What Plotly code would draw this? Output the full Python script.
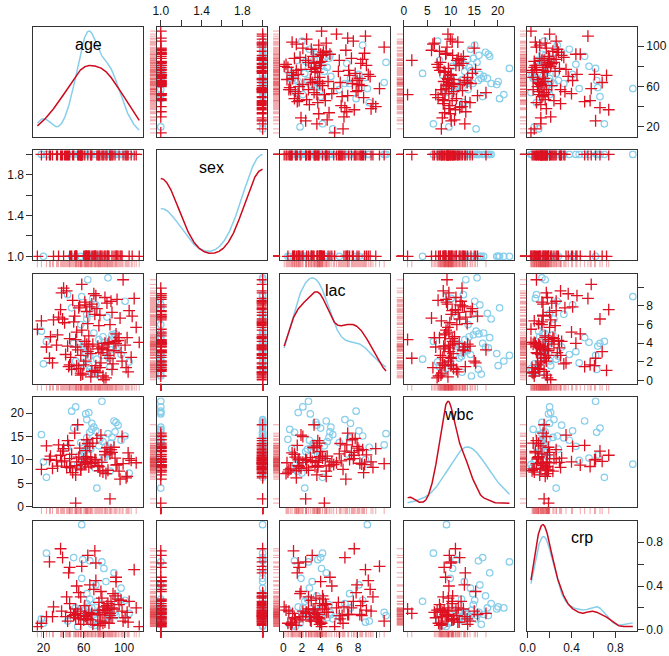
import numpy as np
import plotly.graph_objects as go

# ---------------- data ----------------
variables = ["age", "sex", "lac", "wbc", "crp"]

red_age = [62,75,48,83,57,91,35,68,72,44, 53,88,65,26,79,56,97,61,77,41,
           84,58,63,102,46,74,66,38,93,54, 71,43,81,67,30,87,52,110,60,73,
           47,76,64,95,59,86,69,33,70,55, 92,42,62,82,14,78,51,89,65,37,
           85,57,115,75,45,99,68,34,90,50, 72,49,61,104,53,79,63,29,94,67,
           40,80,74,39,88,58,98,55,76,27, 84,64,46,86,71,52,77,23,96,57,
           81,107,92,18,83,101,105,103,108,112]
red_sex = [1,2,1,2,2,2,1,2,1,2, 1,2,1,2,1,2,1,2,1,2, 1,2,1,2,2,2,1,2,1,2,
           1,2,1,2,1,2,1,2,1,2, 1,2,1,2,2,2,1,2,1,2, 1,2,1,2,1,2,1,2,1,2,
           1,2,1,2,2,2,1,2,1,2, 1,2,1,2,1,2,1,2,1,2, 1,2,1,2,1,2,1,2,1,2,
           1,2,1,2,1,1,1,2,1,2, 1,2,1,2,1,2,1,2,1,2]
red_lac = [2.1,3.4,1.2,8.3,0.8,4.2,6.8,8.2,9.1,3.7, 1.6,7.3,4.8,2.4,0.5,8.0,3.0,8.4,1.9,6.2,
           2.7,10.3,3.9,1.4,4.5,0.9,7.9,9.4,8.7,3.3, 1.1,9.6,4.0,0.4,6.5,8.5,3.6,8.8,1.7,7.7,
           2.5,7.0,3.1,4.6,0.7,6.0,3.9,3.8,9.3,1.3, 5.0,2.8,8.1,0.3,5.5,3.5,6.9,1.8,3.7,7.6,
           4.1,0.6,4.1,5.9,1.5,10.8,1.0,4.9,3.2,6.3, 1.6,8.6,4.2,0.95,5.2,3.4,7.4,1.9,4.3,2.9,
           9.9,0.1,3.7,6.6,1.2,5.4,2.1,7.8,1.4,4.7, 3.9,6.1,1.7,2.4,7.1,4.4,3.0,3.6,6.7,2.7,
           8.9,2.5,4.0,6.4,3.3,3.8,7.5,4.6,6.9,5.7]
red_wbc = [9.5,8.6,11.2,None,8.1,10.4,13.2,9.3,None,14.1, 8.8,11.6,None,10.1,7.4,12.5,None,9.1,15.3,9.8,
           7.8,None,10.7,6.2,10.3,None,12.9,9.6,9.0,17.5, None,8.4,11.8,9.4,None,12.2,6.8,None,10.2,14.6,
           8.3,None,9.7,7.6,None,11.3,13.6,9.9,None,10.6, 8.9,None,12.0,7.1,None,9.5,15.7,None,8.5,11.0,
           None,7.9,None,None,13.1,9.2,None,8.7,12.7,None, 10.0,7.3,None,11.5,9.6,None,14.3,8.2,None,10.5,
           12.4,None,8.8,11.9,None,9.0,15.0,None,7.7,10.8, None,13.5,8.6,1.7,10.1,0.8,None,13.0,5.9,None,
           11.1,9.9,None,8.0,12.6,None,10.3,6.5,None,9.4]
red_crp = [0.12,0.18,None,0.22,0.05,0.31,None,0.14,0.45,0.08, None,0.20,0.16,0.62,0.06,None,0.27,0.13,0.35,None,
           0.19,0.58,0.10,None,0.24,0.04,0.41,0.17,None,0.15, 0.72,0.30,0.07,None,0.21,0.26,0.11,0.55,0.09,None,
           0.16,0.14,0.68,0.23,None,0.13,0.05,None,0.37,0.10, 0.48,0.12,None,0.18,0.03,0.29,0.14,0.33,None,0.74,
           0.06,0.17,0.03,0.25,0.52,0.08,0.15,None,0.19,0.13, 0.61,None,0.22,0.07,0.40,0.16,None,0.12,0.28,0.09,
           None,0.21,0.14,0.66,0.11,None,0.17,0.34,0.04,None, 0.24,0.10,0.57,0.15,None,0.19,0.08,0.12,None,0.30,
           0.18,None,0.44,0.06,None,0.11,0.26,0.16,None,0.20]

blue_age = [58,65,72,85,63,20,90,67,48,101, 55,78,64,86,23,70,61,97,52,83,
            66,75,58,92,68,44,80,62,88,71, 57,94,60,73,18,82,65,50,87,69,
            105,63,76,59,84,66,91,54,79,68]
blue_sex = [2,2,1,2,2,1,2,2,1,2, 2,1,2,2,2,1,2,2,1,2, 2,1,2,2,1,2,2,1,2,2,
            1,2,2,1,2,2,1,2,2,1, 2,2,1,2,2,1,2,2,1,2]
blue_lac = [9.0,3.2,8.1,2.4,7.1,1.8,4.6,0.9,7.8,8.5, 3.9,2.7,10.8,1.5,4.2,5.1,3.0,2.8,2.1,6.8,
            1.2,4.4,1.9,3.5,0.7,9.2,4.1,2.9,4.9,1.0, 6.0,3.6,3.9,2.3,5.3,3.1,1.6,4.0,3.3,8.8,
            2.0,6.6,0.5,3.7,11.0,2.6,5.0,1.3,4.7,7.2]
blue_wbc = [9.1,13.5,16.2,11.8,14.7,9.6,18.3,12.4,20.4,15.1, 10.8,22.5,13.2,7.6,6.3,17.0,12.0,14.2,21.3,11.3,
            15.9,13.0,9.9,18.0,16.5,12.7,10.4,19.8,14.8,8.3, 13.7,17.4,11.6,4.0,15.4,12.9,20.1,16.8,13.6,10.1,
            7.2,18.6,14.4,11.1,15.6,12.3,16.0,9.0,13.9,17.8]
blue_crp = [0.96,0.15,0.41,0.12,0.33,0.06,0.52,0.12,None,0.27, 0.18,0.62,0.16,0.09,0.70,0.14,0.11,0.38,0.20,None,
            0.63,0.16,0.47,0.13,0.05,0.08,0.56,0.19,0.23,0.04, 0.12,0.31,0.17,0.26,0.10,0.44,0.21,0.66,0.14,0.07,
            0.15,0.24,0.18,0.64,0.13,0.28,0.16,0.03,0.11,0.20]

tick_vals = {"age": [20, 40, 60, 80, 100], "sex": [1.0, 1.2, 1.4, 1.6, 1.8, 2.0],
             "lac": [0, 2, 4, 6, 8, 10], "wbc": [0, 5, 10, 15, 20],
             "crp": [0.0, 0.2, 0.4, 0.6, 0.8, 1.0]}
tick_text = {"age": ["20", "", "60", "", "100"], "sex": ["1.0", "", "1.4", "", "1.8", ""],
             "lac": ["0", "2", "4", "6", "8", ""], "wbc": ["0", "5", "10", "15", "20"],
             "crp": ["0.0", "", "0.4", "", "0.8", ""]}

# ---------------- styling ----------------
BLUE = "#87CEEB"
RED = "#DD1122"
RED_LINE = "#CC0A1E"
RUG = "rgba(220,30,40,0.40)"
BOX = "#333333"
FONT = "Liberation Sans, Arial, sans-serif"

groups = {
    "blue": {"age": blue_age, "sex": blue_sex, "lac": blue_lac, "wbc": blue_wbc, "crp": blue_crp},
    "red": {"age": red_age, "sex": red_sex, "lac": red_lac, "wbc": red_wbc, "crp": red_crp},
}

def arr(lst):
    return np.array([np.nan if v is None else v for v in lst], dtype=float)

G = {g: {v: arr(groups[g][v]) for v in variables} for g in groups}

rng = {}
for v in variables:
    allv = np.concatenate([G["blue"][v], G["red"][v]])
    allv = allv[~np.isnan(allv)]
    lo, hi = allv.min(), allv.max()
    pad = 0.04 * (hi - lo)
    rng[v] = [lo - pad, hi + pad]

def kde(vals, grid):
    v = vals[~np.isnan(vals)]
    n = len(v)
    sd = v.std(ddof=1)
    q75, q25 = np.percentile(v, [75, 25])
    iqr = q75 - q25
    lo = min(sd, iqr / 1.34) if iqr > 0 else sd
    bw = 0.9 * lo * n ** (-0.2)
    z = (grid[:, None] - v[None, :]) / bw
    return np.exp(-0.5 * z ** 2).sum(axis=1) / (n * bw * np.sqrt(2 * np.pi))

def segs(vals, a, b):
    """Rug segments: each value becomes a short line from a to b on the helper axis."""
    p, q = [], []
    for v in vals:
        p += [a, b, None]
        q += [v, v, None]
    return p, q

# ---------------- layout geometry (pixels) ----------------
W, H = 669, 656
ML, MR, MT, MB = 33, 32, 27, 17
PW = W - ML - MR
PH = H - MT - MB
X0, Y0 = 33.3, 27.0          # top-left corner of the first panel
PANEL = 110.0
STEP = 123.4
RUG_LEN = 7.0

def xdom(a, b):
    return [max(0.0, (a - ML) / PW), min(1.0, (b - ML) / PW)]

def ydom(top, bot):
    return [max(0.0, (H - MB - bot) / PH), min(1.0, (H - MB - top) / PH)]

fig = go.Figure()
layout = {}
annotations = []

def nm(k):
    return "" if k == 1 else str(k)

# hidden helper axes for rugs sitting in the gaps (left of columns 2-5, below rows 2-5)
for j in range(1, 5):
    left = X0 + j * STEP
    layout["xaxis" + str(30 + j)] = dict(domain=xdom(left - RUG_LEN, left), range=[0, 1],
                                         visible=False, fixedrange=True, anchor="free", position=0)
for i in range(1, 5):
    bottom = Y0 + i * STEP + PANEL
    layout["yaxis" + str(40 + i)] = dict(domain=ydom(bottom, bottom + RUG_LEN), range=[1, 0],
                                         visible=False, fixedrange=True, anchor="free", position=0)

for i, vi in enumerate(variables):
    for j, vj in enumerate(variables):
        k = i * 5 + j + 1
        xd = xdom(X0 + j * STEP, X0 + j * STEP + PANEL)
        yd = ydom(Y0 + i * STEP, Y0 + i * STEP + PANEL)
        base = dict(showline=True, mirror=True, linecolor=BOX, linewidth=1,
                    showgrid=False, zeroline=False, ticks="", showticklabels=False,
                    tickfont=dict(size=12, color="#111", family=FONT), automargin=False,
                    ticklabeloverflow="allow",
                    ticklen=6, tickcolor=BOX, tickwidth=1, fixedrange=True)
        xa = dict(base, domain=xd, anchor="y" + nm(k), range=rng[vj])
        if i == j:
            span = rng[vj][1] - rng[vj][0]
            grid = np.linspace(rng[vj][0] + 0.04 / 1.08 * span, rng[vj][1] - 0.04 / 1.08 * span, 300)
            dmax = 0
            for g, col in (("blue", BLUE), ("red", RED_LINE)):
                d = kde(G[g][vj], grid)
                dmax = max(dmax, d.max())
                fig.add_trace(go.Scatter(x=grid, y=d, mode="lines",
                                         line=dict(color=col, width=1.5),
                                         xaxis="x" + nm(k), yaxis="y" + nm(k),
                                         showlegend=False, hoverinfo="skip"))
            ya = dict(base, domain=yd, anchor="x" + nm(k), range=[-0.04 * dmax, 1.04 * dmax])
            annotations.append(dict(text=vj, xref="x" + nm(k) + " domain", yref="y" + nm(k) + " domain",
                                    x=0.5, y=1 - 17 / PANEL, xanchor="center", yanchor="middle",
                                    showarrow=False, font=dict(size=16, color="#000", family=FONT)))
        else:
            ya = dict(base, domain=yd, anchor="x" + nm(k), range=rng[vi])
            xr = G["red"][vj]
            yr = G["red"][vi]
            m = ~np.isnan(xr) & ~np.isnan(yr)
            if j >= 1:
                px_, py_ = segs(yr[m], 0, 1)
                fig.add_trace(go.Scatter(x=px_, y=py_, mode="lines", line=dict(color=RUG, width=1),
                                         xaxis="x" + str(30 + j), yaxis="y" + nm(k),
                                         showlegend=False, hoverinfo="skip"))
            if i >= 1:
                qy, qx = segs(xr[m], 0, 1)
                fig.add_trace(go.Scatter(x=qx, y=qy, mode="lines", line=dict(color=RUG, width=1),
                                         xaxis="x" + nm(k), yaxis="y" + str(40 + i),
                                         showlegend=False, hoverinfo="skip"))
            for g in ("blue", "red"):
                xv = G[g][vj]
                yv = G[g][vi]
                mm = ~np.isnan(xv) & ~np.isnan(yv)
                if g == "blue":
                    mk = dict(symbol="circle-open", size=6.5, color=BLUE, line=dict(width=1.2, color=BLUE))
                else:
                    mk = dict(symbol="cross-thin-open", size=8.5, color=RED, line=dict(width=1.3, color=RED))
                fig.add_trace(go.Scatter(x=xv[mm], y=yv[mm], mode="markers", marker=mk,
                                         xaxis="x" + nm(k), yaxis="y" + nm(k),
                                         showlegend=False, hoverinfo="skip"))
        # outer axes
        if i == 4 and j in (0, 2, 4):
            xa.update(ticks="outside", showticklabels=True, tickvals=tick_vals[vj], ticktext=tick_text[vj], side="bottom")
        if i == 0 and j in (1, 3):
            xa.update(ticks="outside", showticklabels=True, tickvals=tick_vals[vj], ticktext=tick_text[vj], side="top")
        if j == 0 and i in (1, 3):
            ya.update(ticks="outside", showticklabels=True, tickvals=tick_vals[vi], ticktext=tick_text[vi], side="left")
        if j == 4 and i in (0, 2):
            ya.update(ticks="outside", showticklabels=True, tickvals=tick_vals[vi], ticktext=tick_text[vi], side="right")
        layout["xaxis" + nm(k)] = xa
        layout["yaxis" + nm(k)] = ya

# extra right-hand crp axis for the bottom-right diagonal panel
layout["yaxis26"] = dict(overlaying="y25", anchor="x25", side="right", range=rng["crp"],
                         showline=False, showgrid=False, zeroline=False, ticks="outside",
                         tickvals=tick_vals["crp"], ticktext=tick_text["crp"], ticklen=6,
                         tickcolor=BOX, tickwidth=1, automargin=False, ticklabeloverflow="allow",
                         tickfont=dict(size=12, color="#111", family=FONT), fixedrange=True)
fig.add_trace(go.Scatter(x=[np.nan], y=[np.nan], mode="markers", xaxis="x25", yaxis="y26",
                         showlegend=False, hoverinfo="skip"))

fig.update_layout(**layout)
fig.update_layout(width=W, height=H, margin=dict(l=ML, r=MR, t=MT, b=MB, autoexpand=False),
                  paper_bgcolor="white", plot_bgcolor="rgba(0,0,0,0)", showlegend=False,
                  annotations=annotations, font=dict(family=FONT, size=12, color="#111"))
fig.write_html("out.html", config={"displayModeBar": False, "staticPlot": True},
               post_script="document.body.style.margin='0px';document.body.style.overflow='hidden';")
